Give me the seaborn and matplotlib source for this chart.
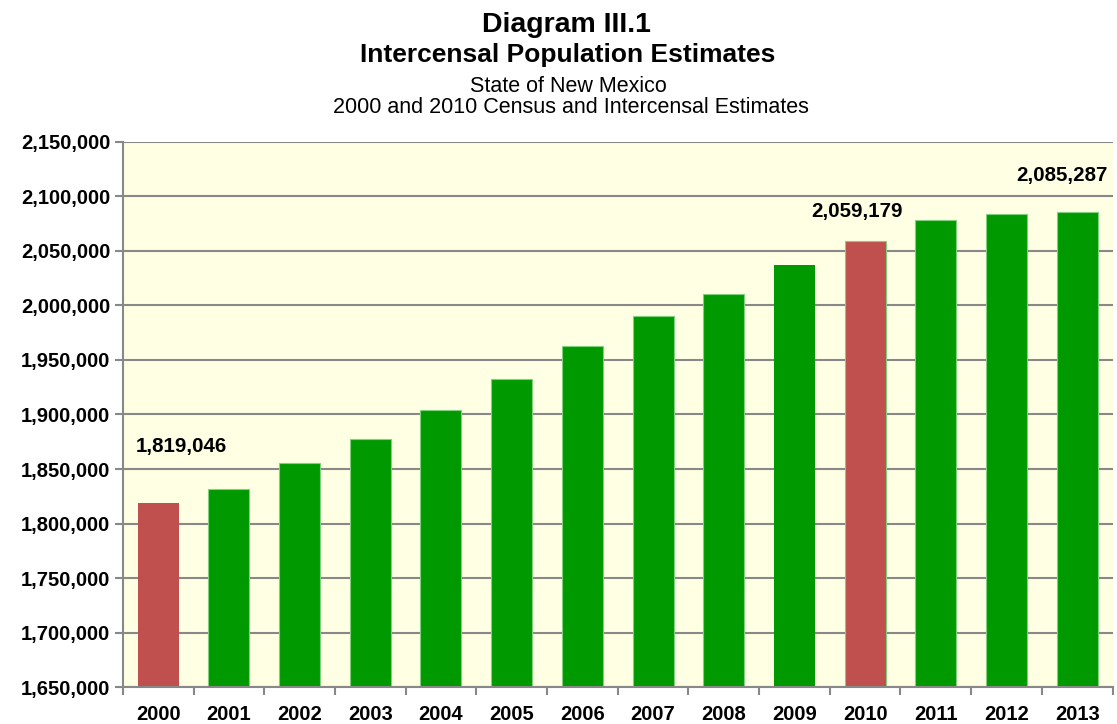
import matplotlib
matplotlib.use("Agg")
import matplotlib.pyplot as plt
import matplotlib.ticker as mticker
import seaborn as sns
import pandas as pd

# Values
years = ["2000", "2001", "2002", "2003", "2004", "2005", "2006",
         "2007", "2008", "2009", "2010", "2011", "2012", "2013"]
population = [1819046, 1831650, 1855500, 1877500, 1903900, 1932600, 1962400,
              1990400, 2010800, 2037200, 2059179, 2078400, 2083900, 2085287]
kind = ["Census", "Estimate", "Estimate", "Estimate", "Estimate", "Estimate", "Estimate",
        "Estimate", "Estimate", "Estimate", "Census", "Estimate", "Estimate", "Estimate"]
labelled_years = ["2000", "2010", "2013"]

df = pd.DataFrame({"year": years, "population": population, "kind": kind})

sns.set_theme(style="white")
plt.rcParams["font.family"] = ["Liberation Sans", "DejaVu Sans"]
plt.rcParams["text.color"] = "black"

fig = plt.figure(figsize=(11.17, 7.24), dpi=100)
ax = fig.add_axes([0.110, 0.051, 0.886, 0.753])
ax.set_facecolor("#FFFFE3")

sns.barplot(data=df, x="year", y="population", hue="kind",
            palette={"Census": "#C0504D", "Estimate": "#009900"},
            dodge=False, width=0.58, legend=False, ax=ax,
            edgecolor="none", saturation=1)
for p, k in zip(ax.patches, df["kind"]):
    if k == "Estimate":
        p.set_edgecolor("#7FD07F")
        p.set_linewidth(0.8)

ax.set_ylim(1650000, 2150000)
ax.set_xlim(-0.5, len(years) - 0.5)
ax.yaxis.set_major_locator(mticker.MultipleLocator(50000))
ax.yaxis.set_major_formatter(mticker.FuncFormatter(lambda v, _: f"{int(v):,}"))
ax.grid(axis="y", color="#888888", linewidth=1.5)
ax.set_axisbelow(True)

for side in ["top", "right"]:
    ax.spines[side].set_visible(False)
for side in ["left", "bottom"]:
    ax.spines[side].set_color("#888888")
    ax.spines[side].set_linewidth(1.5)

ax.tick_params(axis="y", which="major", left=True, length=6, width=1.5,
               color="#888888", pad=3, labelsize=14.5)
ax.tick_params(axis="x", which="major", bottom=False, length=0, pad=13, labelsize=14.5)
ax.xaxis.set_minor_locator(mticker.FixedLocator([i - 0.5 for i in range(len(years) + 1)]))
ax.tick_params(axis="x", which="minor", bottom=True, length=6, width=1.5, color="#888888")
for lab in ax.get_xticklabels() + ax.get_yticklabels():
    lab.set_fontweight("bold")
    lab.set_color("black")
ax.set_xlabel("")
ax.set_ylabel("")

# value labels
offsets = {"2000": (17, 34), "2010": (-6, 14), "2013": (-11, 20)}
for y in labelled_years:
    i = years.index(y)
    dx, dy = offsets[y]
    ax.annotate(f"{population[i]:,}", (i, population[i]), xytext=(dx, dy),
                textcoords="offset points", ha="center", va="bottom",
                fontsize=14.8, fontweight="bold", color="black")

fig.text(0.5075, 0.956, "Diagram III.1", ha="center", va="baseline",
         fontsize=20.5, fontweight="bold")
fig.text(0.5085, 0.914, "Intercensal Population Estimates", ha="center", va="baseline",
         fontsize=19, fontweight="bold")
fig.text(0.5085, 0.873, "State of New Mexico", ha="center", va="baseline", fontsize=15.5)
fig.text(0.5115, 0.844, "2000 and 2010 Census and Intercensal Estimates",
         ha="center", va="baseline", fontsize=15.5)

fig.savefig("out.png", dpi=100, facecolor="white")
